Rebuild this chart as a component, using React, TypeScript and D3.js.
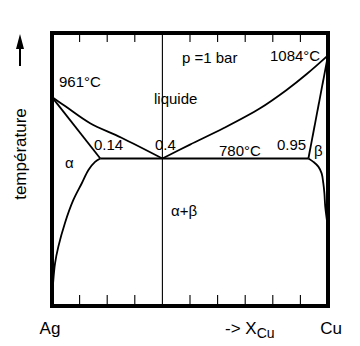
import React from 'react';
import * as d3 from 'd3';

const W = 360;
const H = 346;

// Temperatures (°C) and compositions (X_Cu)
const T_EUT = 780;
const X_ALPHA = 0.175; // drawn position of alpha limit (labelled 0.14)
const X_EUT = 0.4;
const X_BETA = 0.929; // drawn position of beta limit (labelled 0.95)

const liqLeftX = [0, 0.05, 0.138, 0.25, 0.4];
const liqLeftT = [961, 933, 884, 842, 780];

const liqRightX = [0.4, 0.5, 0.621, 0.754, 0.85, 0.923, 1];
const liqRightT = [780, 821, 869, 928, 982, 1029, 1084];

const solLeftX = [0, X_ALPHA];
const solLeftT = [961, 780];

const solRightX = [X_BETA, 1];
const solRightT = [780, 1084];

const solvusLeftX = [0.175, 0.156, 0.132, 0.108, 0.077, 0.047, 0.023, 0.011, 0.004, 0];
const solvusLeftT = [780, 770, 746, 707, 657, 590, 520, 471, 413, 360];

const solvusRightX = [0.929, 0.947, 0.965, 0.977, 0.983, 0.987, 0.99, 1];
const solvusRightT = [780, 770, 756, 736, 707, 677, 638, 575];

const tickValues = [0.1, 0.2, 0.3, 0.5, 0.6, 0.7, 0.8, 0.9];

const FONT = "'Liberation Sans', Arial, sans-serif";

export default function App() {
  const x = d3.scaleLinear().domain([0, 1]).range([52, 328]);
  const y = d3.scaleLinear().domain([345, 1150]).range([306, 33]);

  const line = d3
    .line<[number, number]>()
    .x((d) => x(d[0]))
    .y((d) => y(d[1]))
    .curve(d3.curveCatmullRom.alpha(0.5));

  const zip = (xs: number[], ts: number[]) => xs.map((v, i) => [v, ts[i]] as [number, number]);

  const curves = [
    zip(liqLeftX, liqLeftT),
    zip(liqRightX, liqRightT),
    zip(solLeftX, solLeftT),
    zip(solRightX, solRightT),
    zip(solvusLeftX, solvusLeftT),
    zip(solvusRightX, solvusRightT),
  ];

  const [y0, y1] = y.range();

  return (
    <svg width={W} height={H} style={{ display: 'block', position: 'absolute', left: 0, top: 0, background: '#fff' }}>
      <rect x={0} y={0} width={W} height={H} fill="#fff" />
      {/* ticks */}
      {tickValues.map((t) => (
        <g key={t}>
          <line x1={x(t)} x2={x(t)} y1={y1} y2={y1 + 9} stroke="#000" strokeWidth={1.1} />
          <line x1={x(t)} x2={x(t)} y1={y0} y2={y0 - 11} stroke="#000" strokeWidth={1.1} />
        </g>
      ))}
      {/* eutectic vertical */}
      <line x1={x(X_EUT)} x2={x(X_EUT)} y1={y1} y2={y0} stroke="#000" strokeWidth={1.1} />
      {/* eutectic horizontal */}
      <line x1={x(X_ALPHA)} x2={x(X_BETA)} y1={y(T_EUT)} y2={y(T_EUT)} stroke="#000" strokeWidth={1.8} />
      {curves.map((c, i) => (
        <path key={i} d={line(c) || ''} fill="none" stroke="#000" strokeWidth={1.8} strokeLinejoin="round" />
      ))}
      {/* frame */}
      <rect x={x(0)} y={y1} width={x(1) - x(0)} height={y0 - y1} fill="none" stroke="#000" strokeWidth={4} />

      {/* texts */}
      <g fontFamily={FONT} fill="#000" fontSize={15}>
        <text x={59} y={87}>961°C</text>
        <text x={182} y={63}>p =1 bar</text>
        <text x={270} y={61}>1084°C</text>
        <text x={154} y={104}>liquide</text>
        <text x={94} y={150}>0.14</text>
        <text x={155} y={150}>0.4</text>
        <text x={219} y={156}>780°C</text>
        <text x={277} y={150}>0.95</text>
        <text x={314} y={156}>β</text>
        <text x={65} y={168}>α</text>
        <text x={171} y={216}>α+β</text>
        <text x={50} y={334} fontSize={17} textAnchor="middle">Ag</text>
        <text x={331} y={334} fontSize={17} textAnchor="middle">Cu</text>
        <text x={225} y={334} fontSize={17}>
          -&gt; X<tspan fontSize={14} dy={4}>Cu</tspan>
        </text>
        <text
          transform="translate(26,154) rotate(-90)"
          textAnchor="middle"
          fontSize={17}
        >
          température
        </text>
      </g>
      {/* arrow */}
      <line x1={20} x2={20} y1={66} y2={46} stroke="#000" strokeWidth={2} />
      <path d="M16,49 L24,49 L20,34 Z" fill="#000" />
    </svg>
  );
}
